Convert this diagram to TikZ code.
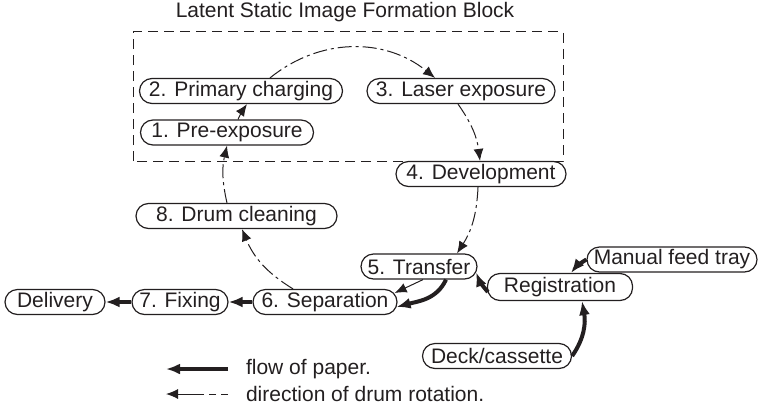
\documentclass[tikz,border=0pt]{standalone}
\usepackage{fontspec}
\setmainfont{Liberation Sans}
\usetikzlibrary{arrows.meta, calc}
\definecolor{inkblack}{RGB}{35, 31, 32}

\begin{document}
\begin{tikzpicture}[x=0.5pt, y=0.5pt,
    stage/.style={rectangle, rounded corners=6.25pt, draw=inkblack, line width=0.6pt,
      minimum height=12.5pt, inner sep=1pt, text=inkblack,
      font=\fontsize{10.5}{12}\selectfont},
    label/.style={text=inkblack, font=\fontsize{10.5}{12}\selectfont},
    drum/.style={inkblack, line width=0.5pt,
      dash pattern=on 7pt off 2pt on 1.5pt off 2pt,
      -{Latex[length=6pt, width=5pt]}},
    paper/.style={inkblack, line width=2pt, -{Latex[length=7pt, width=5.5pt]}},
  ]

  \useasboundingbox (0,0) rectangle (763,408);

  % ===== 潜像形成块 =====
  \node[label] (title) at (345,396) {Latent Static Image Formation Block};
  \draw[inkblack, line width=0.5pt, dash pattern=on 5pt off 3pt] (133,247) rectangle (563,376);

  \node[stage, minimum width=101.5pt] (n2) at (241,317) {2. Primary charging};
  \node[stage, minimum width=94pt] (n3) at (461,317) {3. Laser exposure};
  \node[stage, minimum width=86.5pt] (n1) at (227,275.5) {1. Pre-exposure};

  % ===== 鼓周围的其余工序 =====
  \node[stage, minimum width=85pt] (n4) at (481,234) {4. Development};
  \node[stage, minimum width=100.5pt] (n8) at (236.5,192) {8. Drum cleaning};
  \node[stage, minimum width=58pt] (n5) at (419,141.5) {5. Transfer};
  \node[stage, minimum width=72pt] (n6) at (325,106) {6. Separation};
  \node[stage, minimum width=48pt] (n7) at (180,106) {7. Fixing};
  \node[stage, minimum width=50pt] (dlv) at (55,106) {Delivery};

  % ===== 供纸 =====
  \node[stage, minimum width=72.5pt, minimum height=13.5pt] (reg) at (560,121) {Registration};
  \node[stage, minimum width=85pt] (man) at (672,148.5) {Manual feed tray};
  \node[stage, minimum width=74.5pt] (deck) at (497,52) {Deck/cassette};

  % 鼓旋转方向
  \draw[drum] ($(n2.north)+(29,0)$) to[bend left=39] ($(n3.north)+(-26,0)$);
  \draw[drum] ($(n3.south)+(-3,0)$) to[bend left=14] ($(n4.north)+(-1,0)$);
  \draw[drum] ($(n4.south)+(-3,0)$) to[bend left=15] ($(n5.north)+(38,0)$);
  \draw[drum, solid] ($(n5.south)+(4,0)$) -- ($(n6.east)+(-3,9)$);
  \draw[drum] ($(n6.north)+(-32,0)$) to[bend left=18] ($(n8.south)+(5.5,0)$);
  \draw[drum] ($(n8.north)+(-9.5,0)$) to[bend left=13] (n1.south);
  \draw[drum] ($(n1.north)+(11,0)$) to[bend left=5] ($(n2.south)+(6,0)$);

  % 纸张流向
  \draw[paper] (man.west) to[bend right=10] ($(reg.north)+(11,0)$);
  \draw[paper] (deck.east) to[out=55, in=-80] ($(reg.south)+(22,0)$);
  \draw[paper] ($(reg.west)+(1,-5)$) to[bend left=10] ($(n5.east)+(-1.5,-6)$);
  \draw[paper] ($(n5.south)+(27,0)$) to[out=-115, in=15] ($(n6.east)+(-1,-5)$);
  \draw[paper] (n6.west) -- (n7.east);
  \draw[paper] (n7.west) -- (dlv.east);

  % ===== 图例 =====
  \coordinate (lp1) at (228,39);
  \coordinate (lp2) at (166,39);
  \draw[paper] (lp1) -- (lp2);
  \node[label, anchor=west] (lpaper) at (239,39) {flow of paper.};

  \coordinate (ld1) at (228,14);
  \coordinate (ld2) at (166,14);
  \draw[inkblack, line width=0.5pt, dash pattern=on 3.5pt off 2.5pt on 3.5pt off 2.5pt on 40pt off 1pt,
    -{Latex[length=6pt, width=5pt]}] (ld1) -- (ld2);
  \node[label, anchor=west] (ldrum) at (239,14) {direction of drum rotation.};

\end{tikzpicture}
\end{document}
